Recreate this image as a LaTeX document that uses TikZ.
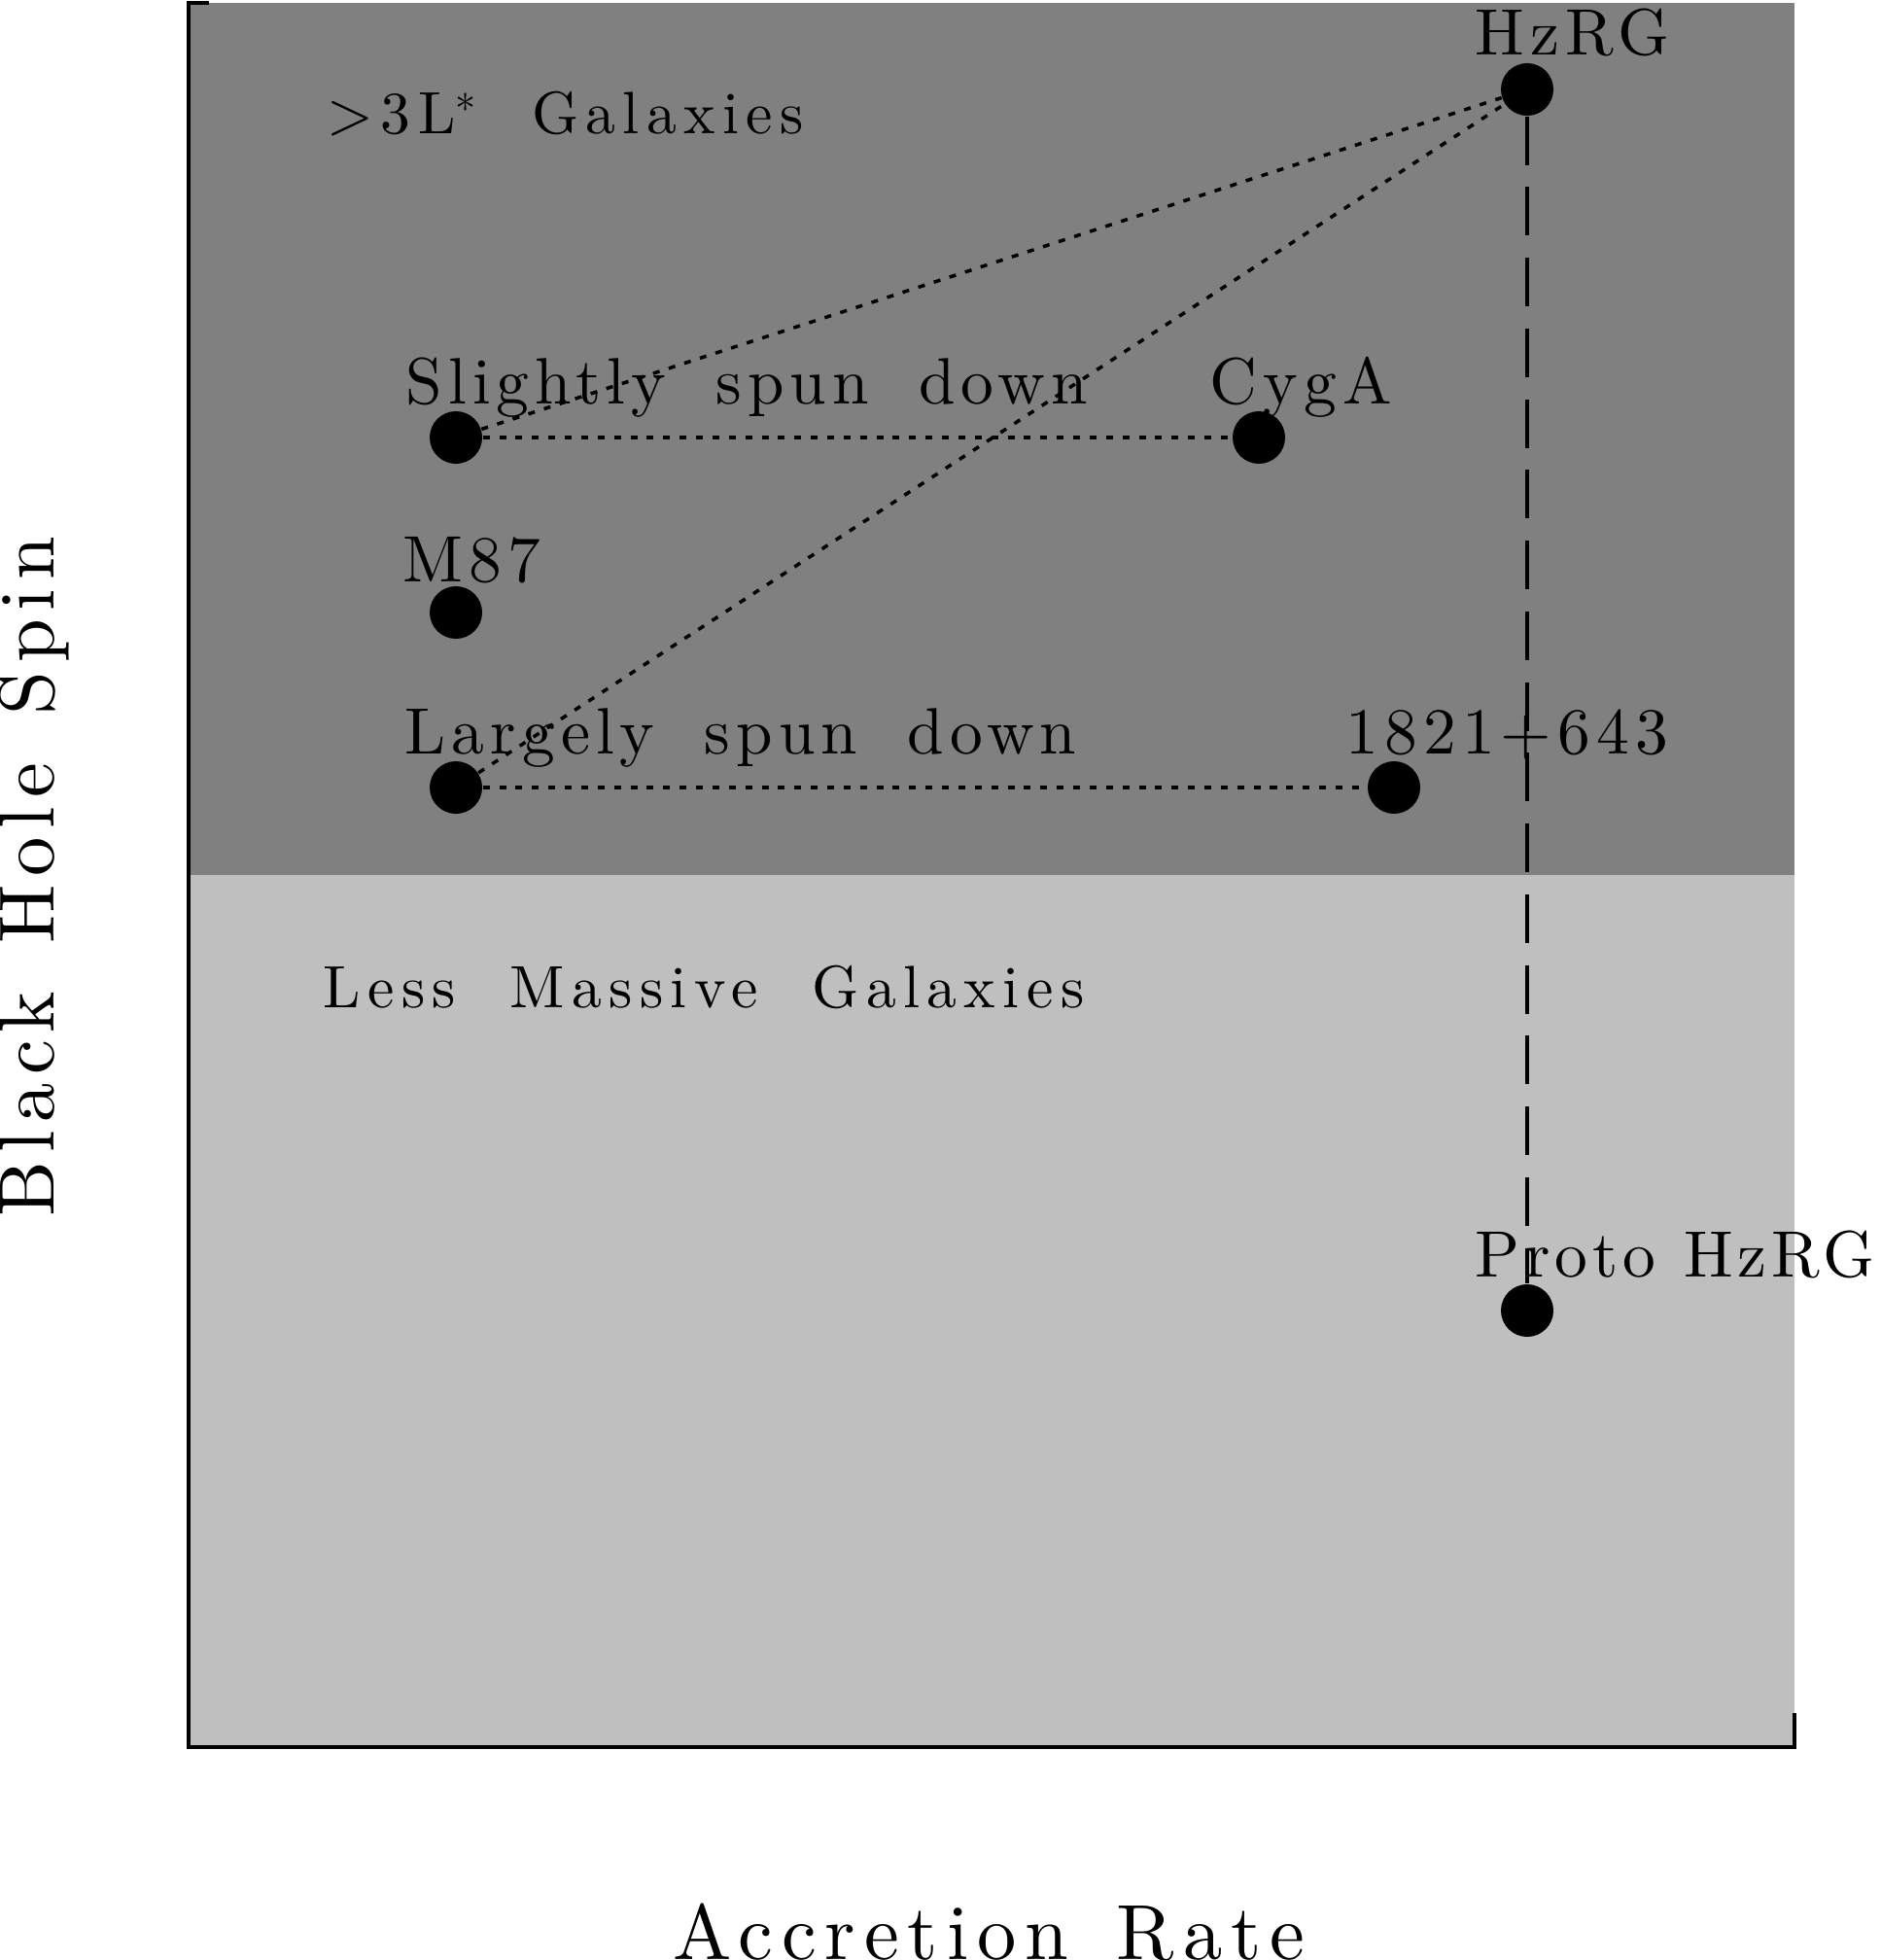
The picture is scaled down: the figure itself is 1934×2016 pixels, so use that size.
\documentclass[tikz,border=0pt]{standalone}
\usepackage{tikz}
\usepackage{fontspec}
\usetikzlibrary{shapes, arrows}
\newfontfamily\pointfont{lmroman10-regular.otf}[LetterSpace=9, WordSpace=1.8]
\newfontfamily\narrowfont{lmroman10-regular.otf}[LetterSpace=7, WordSpace=1.1]
\newfontfamily\regionfont{lmroman10-regular.otf}[LetterSpace=12, WordSpace=2.0]
\newfontfamily\axisfont{lmroman10-regular.otf}[LetterSpace=11, WordSpace=1.4]
\definecolor{darkregion}{gray}{0.5}
\definecolor{lightregion}{gray}{0.75}
\tikzstyle{dot} = [circle, fill=black, minimum size=5.4mm, inner sep=0pt]
\tikzstyle{pointlabel} = [anchor=base west, inner sep=0pt, font=\pointfont\fontsize{19.2pt}{23pt}\selectfont]
\tikzstyle{regionlabel} = [anchor=base west, inner sep=0pt, font=\regionfont\fontsize{17.5pt}{21pt}\selectfont]
\tikzstyle{axislabel} = [anchor=base west, inner sep=0pt, font=\axisfont\fontsize{22.9pt}{27pt}\selectfont]
\tikzstyle{track} = [line width=1pt, dash pattern=on 2pt off 2.8pt]
\tikzstyle{evolve} = [line width=1.1pt, dash pattern=on 14.2pt off 6.5pt]
\tikzstyle{axis} = [line width=1.3pt]

\begin{document}
\begin{tikzpicture}[x=0.1mm, y=-0.1mm]
\useasboundingbox (0,0) rectangle (1934,2016);

% Regions
\fill [darkregion] (194,3) rectangle (1846,900);
\fill [lightregion] (194,900) rectangle (1846,1797);
\draw [axis] (215,3) -- (194,3) -- (194,1797) -- (1846,1797) -- (1846,1762);

% Nodes
\node (hzrg) [dot] at (1571,92) {};
\node (slight) [dot] at (469,450) {};
\node (cyga) [dot] at (1295,450) {};
\node (m87) [dot] at (469,630) {};
\node (largely) [dot] at (469,810) {};
\node (src1821) [dot] at (1434,810) {};
\node (proto) [dot] at (1571,1348) {};

% Labels
\node (hzrgLabel) [pointlabel] at (1517,57) {HzRG};
\node (slightLabel) [pointlabel] at (417,415) {Slightly spun down};
\node (cygaLabel) [pointlabel] at (1244,415) {CygA};
\node (m87Label) [pointlabel] at (414,598) {M87};
\node (largelyLabel) [pointlabel] at (416,775) {Largely spun down};
\node (src1821Label) [pointlabel] at (1384,775) {1821+643};
\node (protoLabel) [pointlabel, font=\narrowfont\fontsize{19.2pt}{23pt}\selectfont] at (1517,1313) {Proto HzRG};
\node (bigLabel) [regionlabel] at (336,138) {>3L$^*$ Galaxies};
\node (smallLabel) [regionlabel] at (332,1036) {Less Massive Galaxies};
\node (xLabel) [axislabel] at (692,2015) {Accretion Rate};
\node (yLabel) [axislabel, rotate=90] at (55,1252) {Black Hole Spin};

% Tracks
\draw [track] (slight) -- (hzrg);
\draw [track] (largely) -- (hzrg);
\draw [track] (slight) -- (cyga);
\draw [track] (largely) -- (src1821);
\draw [evolve] (hzrg) -- (proto);

\end{tikzpicture}
\end{document}
